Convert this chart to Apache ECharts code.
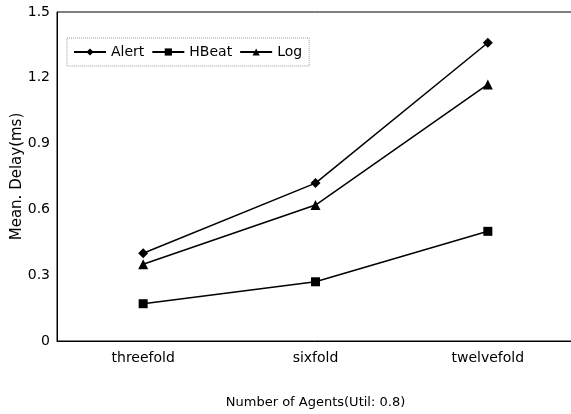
<!DOCTYPE html>
<html><head><meta charset="utf-8">
<script src="https://cdn.jsdelivr.net/npm/echarts@6/dist/echarts.min.js"></script>
<style>html,body{margin:0;padding:0;background:#fff}#c{width:571px;height:414px}</style>
</head><body><div id="c"></div>
<script>
const categories = ['threefold', 'sixfold', 'twelvefold'];
const alertValues = [0.40, 0.72, 1.36];
const hbeatValues = [0.17, 0.27, 0.50];
const logValues = [0.35, 0.62, 1.17];
const yTicks = ['0', '0.3', '0.6', '0.9', '1.2', '1.5'];

const font = '"DejaVu Sans", sans-serif';
const chart = echarts.init(document.getElementById('c'));
function ser(name, data, symbol, size) {
  return {
    name, type: 'line', data, symbol, symbolSize: size,
    lineStyle: { color: '#000', width: 1.5 },
    itemStyle: { color: '#000' },
    emphasis: { disabled: true }, animation: false
  };
}
chart.setOption({
  animation: false,
  grid: { left: 57, top: 12, right: -3, bottom: 73, show: true, borderColor: '#000', borderWidth: 1,
          containLabel: false, outerBoundsMode: 'none' },
  legend: {
    left: 67, top: 38, itemWidth: 32, itemHeight: 9, itemGap: 7,
    padding: [7, 7, 7, 6],
    borderColor: '#999', borderWidth: 1, borderType: 'dotted',
    textStyle: { fontFamily: font, fontSize: 14, color: '#000', padding: [0, 0, 0, 0] },
    data: ['Alert', 'HBeat', 'Log']
  },
  xAxis: {
    type: 'category', data: categories, boundaryGap: true,
    axisLine: { lineStyle: { color: '#000', width: 1 } },
    axisTick: { show: false },
    axisLabel: { fontFamily: font, fontSize: 14, color: '#000', margin: 10 },
    name: 'Number of Agents(Util: 0.8)', nameLocation: 'middle', nameGap: 55, nameMoveOverlap: false,
    nameTextStyle: { fontFamily: font, fontSize: 13, color: '#000' }
  },
  yAxis: {
    type: 'value', min: 0, max: 1.5, interval: 0.3,
    axisLine: { show: true, lineStyle: { color: '#000', width: 1 } },
    axisTick: { show: false },
    splitLine: { show: false },
    axisLabel: { fontFamily: font, fontSize: 14, color: '#000', margin: 7,
      formatter: (v) => yTicks[Math.round(v / 0.3)] },
    name: 'Mean. Delay(ms)', nameLocation: 'middle', nameGap: 32, nameMoveOverlap: false,
    nameTextStyle: { fontFamily: font, fontSize: 15, color: '#000' }
  },
  series: [
    ser('Alert', alertValues, 'diamond', 10),
    ser('HBeat', hbeatValues, 'rect', 9),
    ser('Log', logValues, 'triangle', 10)
  ]
});
</script></body></html>
